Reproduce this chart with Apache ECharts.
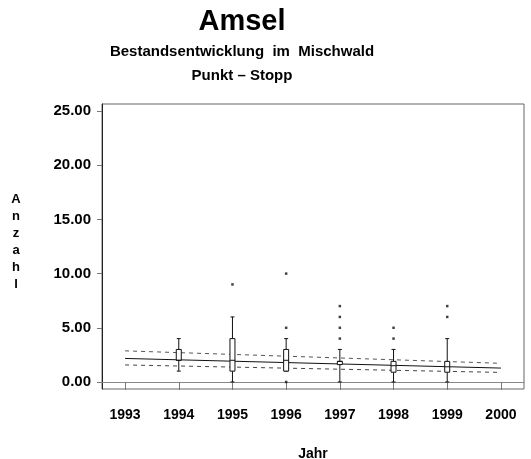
<!DOCTYPE html>
<html>
<head>
<meta charset="utf-8">
<script src="https://cdn.jsdelivr.net/npm/echarts@6/dist/echarts.min.js"></script>
<style>
  html, body { margin: 0; padding: 0; background: #fff; }
  #chart { width: 531px; height: 459px; }
</style>
</head>
<body>
<div id="chart"></div>
<script>
// Jahre mit Boxplots
const years = [1994, 1995, 1996, 1997, 1998, 1999];
const boxMin = [1, 0, 1, 0, 0, 0];
const boxQ1 = [2, 1, 1, 1.6, 0.9, 0.9];
const boxMedian = [2, 2, 2, 1.9, 1.5, 1.4];
const boxQ3 = [3, 4, 3, 1.9, 1.9, 1.9];
const boxMax = [4, 6, 4, 3, 3, 4];

// Ausreisser [Jahr, Anzahl]
const outlierYears = [1995, 1996, 1996, 1996, 1997, 1997, 1997, 1997, 1998, 1998, 1999, 1999];
const outlierValues = [9, 10, 5, 0, 7, 6, 5, 4, 5, 4, 7, 6];

// Trendlinien (Start 1993, Ende 2000)
const lineYears = [1993, 2000];
const trend = [2.17, 1.28];
const upperBand = [2.87, 1.72];
const lowerBand = [1.57, 0.88];

const xTicks = [1993, 1994, 1995, 1996, 1997, 1998, 1999, 2000];
const yTicks = [0, 5, 10, 15, 20, 25];

const font = 'Liberation Sans, Arial, Helvetica, sans-serif';

const boxData = years.map((y, i) => [y, boxMin[i], boxQ1[i], boxMedian[i], boxQ3[i], boxMax[i]]);
const outlierData = outlierYears.map((y, i) => [y, outlierValues[i]]);
const pairs = (vals) => lineYears.map((y, i) => [y, vals[i]]);

const renderBox = (params, api) => {
  const x = api.value(0);
  const pMin = api.coord([x, api.value(1)]);
  const pQ1 = api.coord([x, api.value(2)]);
  const pMed = api.coord([x, api.value(3)]);
  const pQ3 = api.coord([x, api.value(4)]);
  const pMax = api.coord([x, api.value(5)]);
  const cx = pMin[0];
  const half = 2.5;
  const cap = 2;
  const stroke = { stroke: '#111', lineWidth: 1 };
  return {
    type: 'group',
    children: [
      { type: 'line', shape: { x1: cx, y1: pMax[1], x2: cx, y2: pQ3[1] }, style: stroke },
      { type: 'line', shape: { x1: cx, y1: pQ1[1], x2: cx, y2: pMin[1] }, style: stroke },
      { type: 'line', shape: { x1: cx - cap, y1: pMax[1], x2: cx + cap, y2: pMax[1] }, style: stroke },
      { type: 'line', shape: { x1: cx - cap, y1: pMin[1], x2: cx + cap, y2: pMin[1] }, style: stroke },
      { type: 'rect', shape: { x: cx - half, y: pQ3[1], width: half * 2, height: Math.max(pQ1[1] - pQ3[1], 1) }, style: { fill: '#fff', stroke: '#111', lineWidth: 1 } },
      { type: 'line', shape: { x1: cx - half, y1: pMed[1], x2: cx + half, y2: pMed[1] }, style: stroke }
    ]
  };
};

const chart = echarts.init(document.getElementById('chart'));

const option = {
  backgroundColor: '#fff',
  animation: false,
  title: [
    { text: 'Amsel', left: 237, top: 2, textAlign: 'center',
      textStyle: { fontFamily: font, fontSize: 29, fontWeight: 'bold', color: '#000' } },
    { text: 'Bestandsentwicklung  im  Mischwald', left: 237, top: 39, textAlign: 'center',
      textStyle: { fontFamily: font, fontSize: 15, fontWeight: 'bold', color: '#000' } },
    { text: 'Punkt – Stopp', left: 237, top: 63, textAlign: 'center',
      textStyle: { fontFamily: font, fontSize: 15, fontWeight: 'bold', color: '#000' } }
  ],
  // senkrechter Achsentitel, Buchstabe unter Buchstabe
  graphic: [
    {
      type: 'text',
      x: 16,
      y: 191,
      style: {
        text: 'A\nn\nz\na\nh\nl',
        fontFamily: font,
        fontSize: 13,
        fontWeight: 'bold',
        fill: '#000',
        lineHeight: 17,
        align: 'center',
        verticalAlign: 'top'
      }
    }
  ],
  grid: {
    left: 102,
    right: 7,
    top: 104,
    bottom: 70,
    outerBoundsMode: 'none',
    containLabel: false,
    show: true,
    borderColor: '#666',
    borderWidth: 1
  },
  xAxis: {
    type: 'value',
    min: 1992.57,
    max: 2000.43,
    name: 'Jahr',
    nameLocation: 'middle',
    nameGap: 58,
    nameTextStyle: { fontFamily: font, fontSize: 14, fontWeight: 'bold', color: '#000' },
    axisLine: { show: true, lineStyle: { color: '#888', width: 1 } },
    axisTick: { show: true, inside: false, length: 8, customValues: xTicks, lineStyle: { color: '#777' } },
    axisLabel: {
      customValues: xTicks,
      margin: 19,
      fontFamily: font,
      fontSize: 14,
      fontWeight: 'bold',
      color: '#000',
      formatter: (v) => String(v)
    },
    splitLine: { show: false }
  },
  yAxis: {
    type: 'value',
    min: -0.65,
    max: 25.65,
    axisLine: { show: true, lineStyle: { color: '#222', width: 1 } },
    axisTick: { show: true, inside: false, length: 5, customValues: yTicks, lineStyle: { color: '#777' } },
    axisLabel: {
      customValues: yTicks,
      margin: 11,
      fontFamily: font,
      fontSize: 15,
      fontWeight: 'bold',
      color: '#000',
      formatter: (v) => v.toFixed(2)
    },
    splitLine: { show: false }
  },
  series: [
    {
      name: 'Obere Grenze',
      type: 'line',
      data: pairs(upperBand),
      symbol: 'none',
      lineStyle: { color: '#555', width: 1, type: [4, 4] },
      z: 2
    },
    {
      name: 'Untere Grenze',
      type: 'line',
      data: pairs(lowerBand),
      symbol: 'none',
      lineStyle: { color: '#444', width: 1, type: [4, 4] },
      z: 2
    },
    {
      name: 'Trend',
      type: 'line',
      data: pairs(trend),
      symbol: 'none',
      lineStyle: { color: '#111', width: 1 },
      z: 2
    },
    {
      name: 'Boxplot',
      type: 'custom',
      renderItem: renderBox,
      data: boxData,
      encode: { x: 0, y: [1, 2, 3, 4, 5] },
      z: 3
    },
    {
      name: 'Ausreisser',
      type: 'scatter',
      data: outlierData,
      symbol: 'rect',
      symbolSize: 2.5,
      itemStyle: { color: '#111' },
      z: 4
    }
  ]
};

chart.setOption(option);
</script>
</body>
</html>
